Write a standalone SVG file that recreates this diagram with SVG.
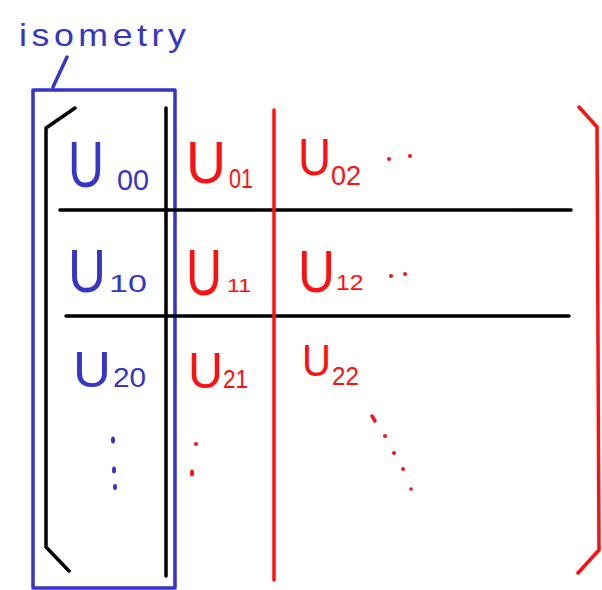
<svg xmlns="http://www.w3.org/2000/svg" width="602" height="590" viewBox="0 0 602 590">
  <style>
    .ink { fill: none; stroke-linecap: round; stroke-linejoin: round; }
    .blk { stroke: #000; stroke-width: 3.5; }
    .blu { stroke: #3535c8; stroke-width: 3.5; }
    .red { stroke: #ff1010; stroke-width: 3.5; }
    .t { font-family: "Liberation Sans", Arial, sans-serif; }
    .tb { fill: #3535c8; }
    .tr { fill: #ff1010; }
    .dotb { fill: #3535c8; }
    .dotr { fill: #ff1010; }
  </style>

  <!-- label and the column box it points at -->
  <g id="isometry-label">
    <text class="t tb" transform="translate(19,46) scale(1.15,1)" font-size="31" letter-spacing="4">isometry</text>
    <path class="ink blu" d="M67 57 L53 87"/>
  </g>
  <g id="isometry-box">
    <rect class="ink blu" x="33" y="90" width="142" height="498"/>
  </g>

  <!-- matrix brackets and partition lines -->
  <g id="lines">
    <path class="ink blk" d="M75 108 L46 128 L46 547 L69 571"/>
    <path class="ink blk" d="M166 108 L166 576"/>
    <path class="ink blk" d="M60 210 L571 210"/>
    <path class="ink blk" d="M66 316 L569 316"/>
    <path class="ink red" d="M274 110 L274 580"/>
    <path class="ink red" d="M579 107 L597 127 L599 550 L578 573"/>
  </g>

  <!-- first column (blue) -->
  <g id="u00">
    <text class="t tb" font-size="64" transform="translate(68,187) scale(0.779,1)">U</text>
    <text class="t tb" font-size="30" transform="translate(117,190) scale(0.958,1)">00</text>
  </g>
  <g id="u10">
    <text class="t tb" font-size="62" transform="translate(68,292) scale(0.849,1)">U</text>
    <text class="t tb" font-size="24" transform="translate(109,292) scale(1.42,1)">10</text>
  </g>
  <g id="u20">
    <text class="t tb" font-size="50" transform="translate(73,387) scale(1.05,1)">U</text>
    <text class="t tb" font-size="27" transform="translate(113,387) scale(1.1,1)">20</text>
  </g>
  <g id="vdots-blue">
    <ellipse class="dotb" cx="113" cy="440" rx="2" ry="3.5"/>
    <ellipse class="dotb" cx="114" cy="470" rx="2" ry="3.5"/>
    <ellipse class="dotb" cx="115" cy="487" rx="2" ry="3"/>
  </g>

  <!-- remaining columns (red) -->
  <g id="u01">
    <text class="t tr" font-size="60" transform="translate(186,183) scale(0.924,1)">U</text>
    <text class="t tr" font-size="28" transform="translate(229,188) scale(0.77,1)">01</text>
  </g>
  <g id="u02">
    <text class="t tr" font-size="52" transform="translate(298,175) scale(0.879,1)">U</text>
    <text class="t tr" font-size="27" transform="translate(331,185)">02</text>
    <circle class="dotr" cx="389" cy="159" r="2"/>
    <circle class="dotr" cx="410" cy="156" r="2"/>
  </g>
  <g id="u11">
    <text class="t tr" font-size="64" transform="translate(186,295) scale(0.779,1)">U</text>
    <text class="t tr" font-size="18" transform="translate(227,292) scale(1.3,1)">11</text>
  </g>
  <g id="u12">
    <text class="t tr" font-size="60" transform="translate(298,292) scale(0.854,1)">U</text>
    <text class="t tr" font-size="22" transform="translate(336,290) scale(1.12,1)">12</text>
    <circle class="dotr" cx="391" cy="276" r="2"/>
    <circle class="dotr" cx="405" cy="274" r="2"/>
  </g>
  <g id="u21">
    <text class="t tr" font-size="50" transform="translate(188,388) scale(0.97,1)">U</text>
    <text class="t tr" font-size="25" transform="translate(223,388) scale(0.9,1)">21</text>
    <circle class="dotr" cx="196" cy="444" r="2"/>
    <ellipse class="dotr" cx="192" cy="473" rx="2" ry="3.5"/>
  </g>
  <g id="u22">
    <text class="t tr" font-size="44" transform="translate(302,376) scale(0.913,1)">U</text>
    <text class="t tr" font-size="25" transform="translate(332,385) scale(0.97,1)">22</text>
  </g>
  <g id="ddots-red">
    <path class="ink red" d="M372 416 L375 421"/>
    <circle class="dotr" cx="385" cy="436" r="2"/>
    <circle class="dotr" cx="394" cy="453" r="2"/>
    <circle class="dotr" cx="403" cy="469" r="2"/>
    <circle class="dotr" cx="411" cy="489" r="1.8"/>
  </g>
</svg>
